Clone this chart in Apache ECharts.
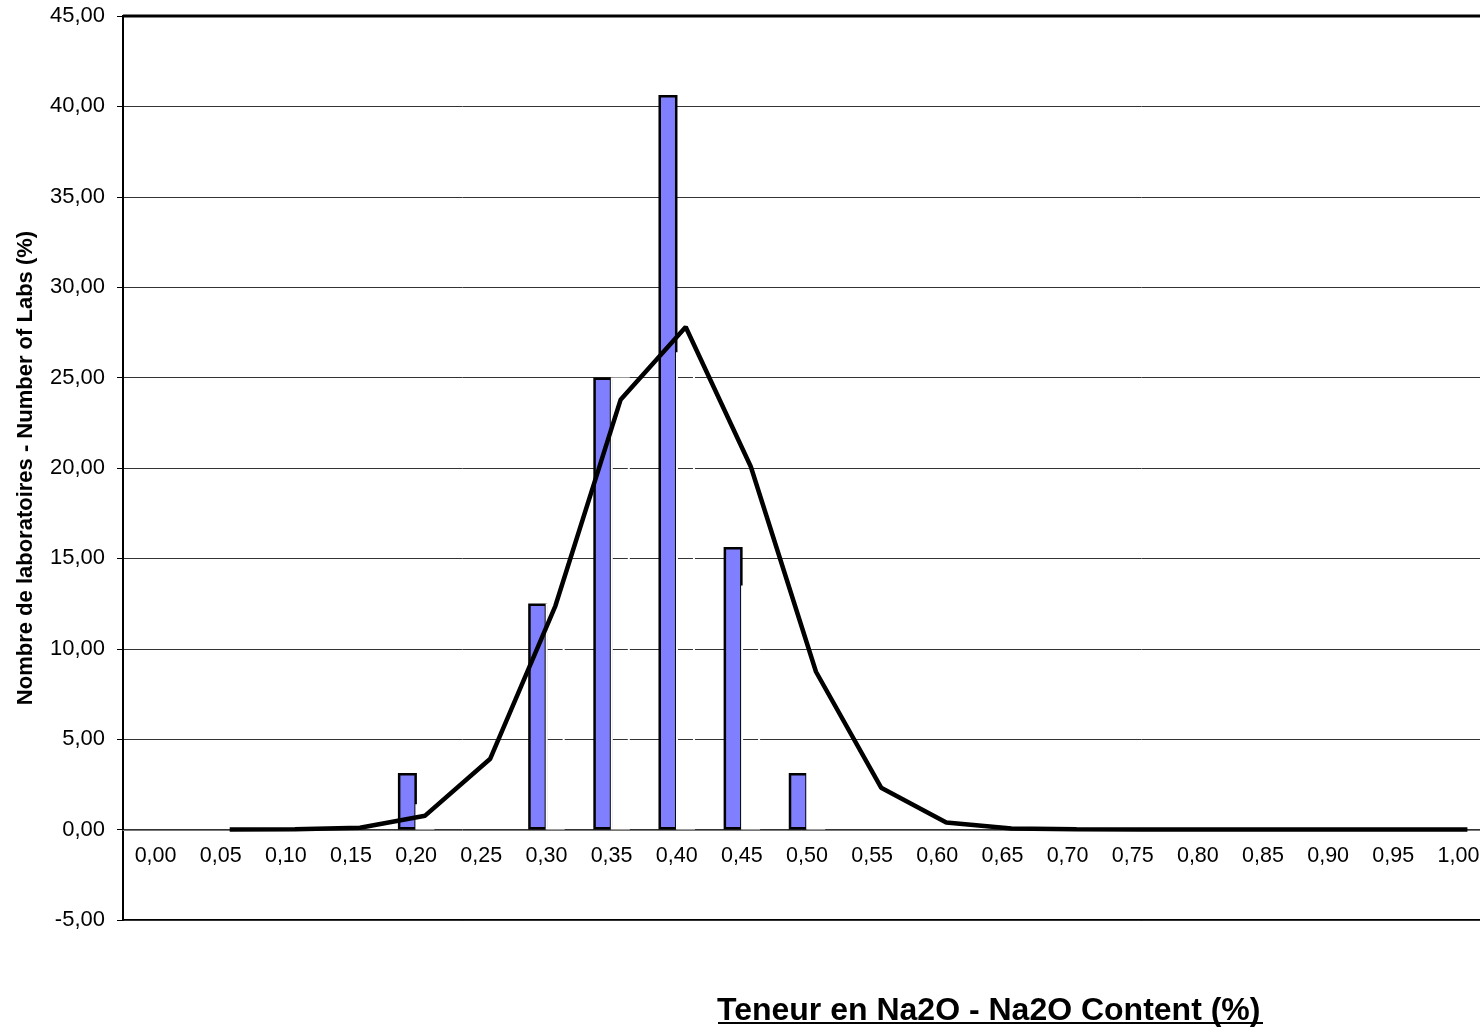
<!DOCTYPE html>
<html>
<head>
<meta charset="utf-8">
<script src="https://cdn.jsdelivr.net/npm/echarts@6/dist/echarts.min.js"></script>
<style>
html,body{margin:0;padding:0;background:#fff;}
#chart{width:1480px;height:1032px;}
</style>
</head>
<body>
<div id="chart"></div>
<script>
const categories = ['0,00','0,05','0,10','0,15','0,20','0,25','0,30','0,35','0,40','0,45','0,50','0,55','0,60','0,65','0,70','0,75','0,80','0,85','0,90','0,95','1,00'];
const labPercent = [0,0,0,0,3.13,0,12.5,25,40.63,15.63,3.13,0,0,0,0,0,0,0,0,0,0];
const hiddenSeries = [0,0,0,0,1.4,0,12.5,25,26.4,13.5,3.13,0,0,0,0,0,0,0,0,0,0];
const normalCurve = [null,0,0.02,0.1,0.77,3.92,12.38,23.77,27.8,20.07,8.73,2.32,0.39,0.06,0.02,0.01,0,0,0,0,0];
const yTicks = {min:-5, max:45, interval:5};
const xTitle = 'Teneur en Na2O - Na2O Content (%)';
const yTitle = 'Nombre de laboratoires - Number of Labs (%)';

const FONT = '"Liberation Sans", Arial, sans-serif';
const chart = echarts.init(document.getElementById('chart'));
const curveData = normalCurve.map((v,i)=> v==null ? null : [i, v]).filter(d=>d);

chart.setOption({
  animation:false,
  backgroundColor:'#fff',
  title:{
    text:xTitle, left:717, top:995, padding:0,
    textStyle:{fontFamily:FONT, fontSize:32, fontWeight:'bold', color:'#000'}
  },
  graphic:[{
    type:'line', shape:{x1:718,y1:1023,x2:1263,y2:1023},
    style:{stroke:'#000', lineWidth:2}, silent:true
  },{
    type:'line', shape:{x1:123,y1:16,x2:1480,y2:16},
    style:{stroke:'#000', lineWidth:3}, silent:true, z:10
  }],
  grid:{left:123, top:16, width:1368, height:904, show:true, borderColor:'#000', borderWidth:2,
        containLabel:false, outerBoundsMode:'none'},
  xAxis:[{
    type:'category', data:categories, boundaryGap:true, position:'bottom', offset:-90,
    axisLine:{show:true, onZero:false, lineStyle:{color:'#777', width:1}},
    axisTick:{show:false},
    axisLabel:{fontFamily:FONT, fontSize:21.5, color:'#000', margin:15, interval:0},
    splitLine:{show:false}
  },{
    type:'value', min:-0.638, max:20.362, show:false,
    axisLine:{onZero:false}, splitLine:{show:false}
  }],
  yAxis:{
    type:'value', min:yTicks.min, max:yTicks.max, interval:yTicks.interval,
    name:yTitle, nameLocation:'middle', nameGap:86, nameRotate:90,
    nameTextStyle:{fontFamily:FONT, fontSize:22, fontWeight:'bold', color:'#000'},
    axisLine:{show:true, onZero:false, lineStyle:{color:'#000', width:2}},
    axisTick:{show:true, inside:false, length:6, lineStyle:{color:'#000', width:1}},
    axisLabel:{fontFamily:FONT, fontSize:22, color:'#000', margin:18,
      formatter:v=>v.toFixed(2).replace('.', ',')},
    splitLine:{show:true, lineStyle:{color:'#333', width:1}}
  },
  series:[{
    type:'bar', data:labPercent.map(v=> v>0 ? v : null), barWidth:19, barGap:'-8%', xAxisIndex:0,
    itemStyle:{color:'#8080FF', borderColor:'#000', borderWidth:2.5}, z:2
  },{
    type:'bar', data:hiddenSeries.map(v=> v>0 ? v : null), barWidth:19, xAxisIndex:0,
    itemStyle:{color:'rgba(255,255,255,0)', borderColor:'#fff', borderWidth:2}, z:3
  },{
    type:'line', data:curveData, xAxisIndex:1, showSymbol:false, symbol:'none',
    lineStyle:{color:'#000', width:4.5}, z:5
  }]
});
</script>
</body>
</html>
